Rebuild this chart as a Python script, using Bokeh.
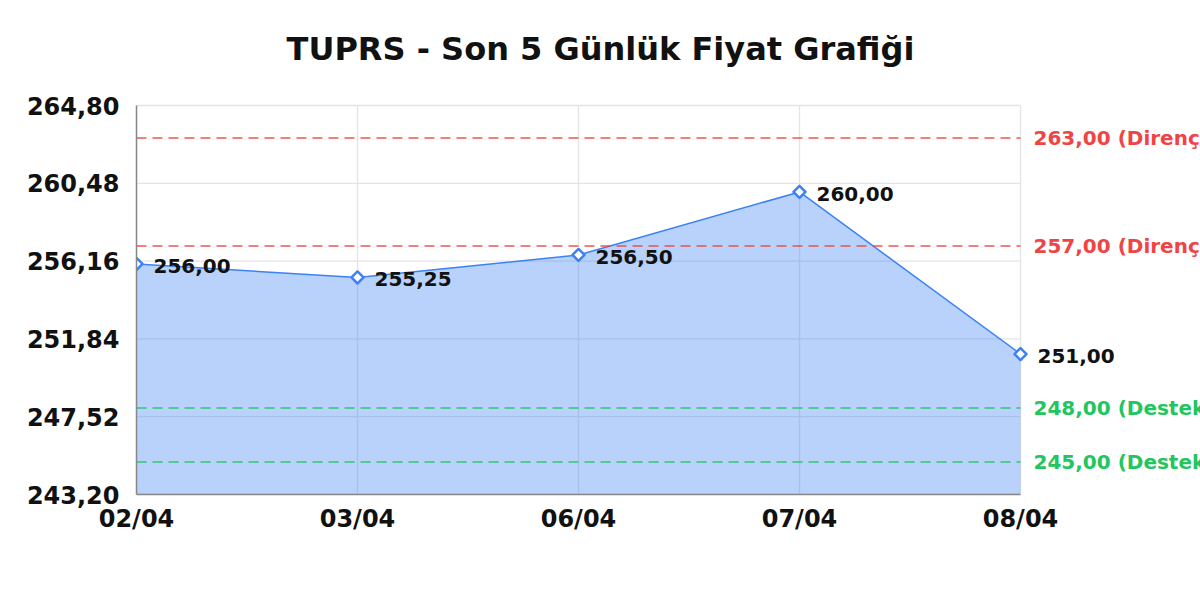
import math
from bokeh.plotting import figure
from bokeh.models import ColumnDataSource, Range1d, FixedTicker, CustomJSTickFormatter
from bokeh.core.properties import value
from bokeh.embed import file_html
from bokeh.resources import INLINE

# ---- data ----
dates = ["02/04", "03/04", "06/04", "07/04", "08/04"]
prices = [256.00, 255.25, 256.50, 260.00, 251.00]
y_ticks = [243.20, 247.52, 251.84, 256.16, 260.48, 264.80]
resistance_levels = [263.00, 257.00]
support_levels = [248.00, 245.00]
title_text = "TUPRS - Son 5 Günlük Fiyat Grafiği"

FONT = "DejaVu Sans"
LINE_BLUE = "#3b82f6"
RED = "#ef4444"
GREEN = "#22c55e"
GRID = "#e4e4e4"
INK = "#111111"

# ---- layout (pixels) ----
W, H = 1200, 600
FRAME_L = 136          # left edge of plotting area
PLOT_R = 1020          # where the last date sits
PLOT_T = 105           # where the top y tick sits
PLOT_B = 494           # bottom axis
TITLE_X, TITLE_Y = 600, 48


def tr_fmt(v):
    return f"{v:.2f}".replace(".", ",")


n = len(dates)
xs = list(range(n))
y_min, y_max = y_ticks[0], y_ticks[-1]
x_last = n - 1

px_per_x = (PLOT_R - FRAME_L) / x_last
px_per_y = (PLOT_B - PLOT_T) / (y_max - y_min)
x_end = (W - FRAME_L) / px_per_x
y_end = y_min + PLOT_B / px_per_y

src = ColumnDataSource(dict(
    x=xs,
    y=prices,
    base=[y_min] * n,
    lbl=[tr_fmt(v) for v in prices],
))

p = figure(width=W, height=H, output_backend="svg", toolbar_location=None,
           x_range=Range1d(0, x_end), y_range=Range1d(y_min, y_end),
           min_border_left=FRAME_L, min_border_right=0,
           min_border_top=0, min_border_bottom=H - PLOT_B)
p.outline_line_color = None
p.background_fill_color = "white"
p.border_fill_color = "white"
p.xgrid.visible = False
p.ygrid.visible = False

# grid lines, bounded to the data area
p.segment(x0=[0] * len(y_ticks), x1=[x_last] * len(y_ticks), y0=y_ticks, y1=y_ticks,
          line_color=GRID, line_width=1.3)
p.segment(x0=xs, x1=xs, y0=[y_min] * n, y1=[y_max] * n, line_color=GRID, line_width=1.3)

# area + line
p.varea(x="x", y1="base", y2="y", source=src, fill_color=LINE_BLUE, fill_alpha=0.36)
p.line(x="x", y="y", source=src, line_color=LINE_BLUE, line_width=1.5)

# support / resistance lines and their labels
for levels, color, word in ((resistance_levels, RED, "Direnç"), (support_levels, GREEN, "Destek")):
    k = len(levels)
    p.segment(x0=[0] * k, x1=[x_last] * k, y0=levels, y1=levels,
              line_color=color, line_alpha=0.9, line_width=1.5, line_dash="10 6")
    p.text(x=[x_last] * k, y=levels, text=[f"{tr_fmt(v)} ({word})" for v in levels],
           x_offset=13, text_color=color, text_font=value(FONT), text_font_size="20px",
           text_font_style="bold", text_align="left", text_baseline="middle")

# markers (rotated squares) + value labels
p.scatter(x="x", y="y", source=src, marker="square", size=8.5, angle=math.pi / 4,
          fill_color="white", line_color=LINE_BLUE, line_width=2.5, line_join="round")
p.text(x="x", y="y", text="lbl", source=src, x_offset=17, y_offset=2,
       text_font=value(FONT), text_font_size="20px", text_font_style="bold",
       text_color=INK, text_align="left", text_baseline="middle")

# title
p.text(x=[(TITLE_X - FRAME_L) / px_per_x], y=[y_min + (PLOT_B - TITLE_Y) / px_per_y],
       text=[title_text], text_font=value(FONT), text_font_size="32px",
       text_font_style="bold", text_color=INK, text_align="center", text_baseline="middle")

# axes
p.xaxis.ticker = FixedTicker(ticks=xs)
p.xaxis.major_label_overrides = {i: d for i, d in enumerate(dates)}
p.xaxis.bounds = (0, x_last)
p.yaxis.ticker = FixedTicker(ticks=y_ticks)
p.yaxis.formatter = CustomJSTickFormatter(code="return tick.toFixed(2).replace('.', ',');")
p.yaxis.bounds = (y_min, y_max)

for ax in (p.xaxis[0], p.yaxis[0]):
    ax.major_tick_line_color = None
    ax.major_tick_out = 0
    ax.major_tick_in = 0
    ax.minor_tick_line_color = None
    ax.minor_tick_out = 0
    ax.axis_line_color = "#888888"
    ax.axis_line_width = 1.5
    ax.major_label_text_font = FONT
    ax.major_label_text_font_size = "24px"
    ax.major_label_text_font_style = "bold"
    ax.major_label_text_color = INK
p.xaxis.major_label_standoff = 10
p.yaxis.major_label_standoff = 17

open("out.html", "w").write(file_html(p, INLINE))
